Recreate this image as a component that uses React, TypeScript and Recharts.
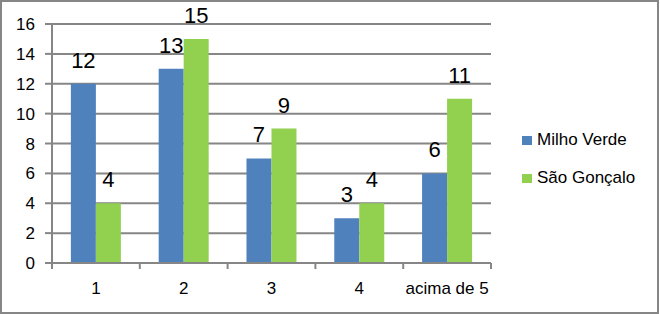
import React from 'react';
import { BarChart, Bar, XAxis, YAxis, CartesianGrid, Legend, LabelList } from 'recharts';

const categories = ['1', '2', '3', '4', 'acima de 5'];
const milhoVerde = [12, 13, 7, 3, 6];
const saoGoncalo = [4, 15, 9, 4, 11];
const yTicks = [0, 2, 4, 6, 8, 10, 12, 14, 16];

const data = categories.map((name, i) => ({
  name,
  milho: milhoVerde[i],
  sao: saoGoncalo[i],
}));

const W = 655;
const H = 310;
const margin = { top: 22, right: 166, bottom: 19, left: 0 };
const yAxisWidth = 50;
const plotWidth = W - margin.left - margin.right - yAxisWidth;
const halfBand = plotWidth / categories.length / 2;

const gray = '#868686';
const font = 'Arial, "Liberation Sans", sans-serif';

function CategoryTick(props: any) {
  const { x, y, payload, index } = props;
  const last = index === categories.length - 1;
  return (
    <g>
      <line x1={x - halfBand} y1={y} x2={x - halfBand} y2={y + 6} stroke={gray} strokeWidth={2} />
      {last && <line x1={x + halfBand} y1={y} x2={x + halfBand} y2={y + 6} stroke={gray} strokeWidth={2} />}
      <text x={x} y={y + 31} textAnchor="middle" fontSize={17} fill="#000" fontFamily={font}>
        {payload.value}
      </text>
    </g>
  );
}

function LegendContent(props: any) {
  const { payload } = props;
  return (
    <div style={{ fontFamily: font, fontSize: 17, color: '#000' }}>
      {payload.map((entry: any) => (
        <div key={entry.value} style={{ display: 'flex', alignItems: 'center', height: 38 }}>
          <span style={{ width: 10, height: 9, background: entry.color, marginRight: 5, display: 'inline-block' }} />
          <span>{entry.value}</span>
        </div>
      ))}
    </div>
  );
}

export default function App() {
  return (
    <div
      style={{
        position: 'fixed',
        left: 0,
        top: 0,
        width: 659,
        height: 314,
        boxSizing: 'border-box',
        border: `2px solid ${gray}`,
        background: '#fff',
      }}
    >
      <BarChart width={W} height={H} data={data} margin={margin} barCategoryGap="21.5%" barGap={0}>
        <CartesianGrid vertical={false} stroke={gray} strokeWidth={2} />
        <XAxis
          dataKey="name"
          axisLine={{ stroke: gray, strokeWidth: 2 }}
          tickLine={false}
          tickSize={0}
          tickMargin={0}
          height={30}
          interval={0}
          tick={<CategoryTick />}
        />
        <YAxis
          domain={[0, 16]}
          ticks={yTicks}
          width={yAxisWidth}
          axisLine={{ stroke: gray, strokeWidth: 2 }}
          tickLine={{ stroke: gray, strokeWidth: 2 }}
          tickSize={7}
          tickMargin={10}
          tick={{ fontSize: 17, fill: '#000', fontFamily: font }}
        />
        <Legend
          layout="vertical"
          align="center"
          verticalAlign="middle"
          content={<LegendContent />}
          wrapperStyle={{ left: 520, top: 119, width: 130 }}
        />
        <Bar dataKey="milho" name="Milho Verde" fill="#4F81BD" isAnimationActive={false}>
          <LabelList dataKey="milho" position="top" offset={16} fontSize={22} fill="#000" fontFamily={font} />
        </Bar>
        <Bar dataKey="sao" name="São Gonçalo" fill="#92D050" isAnimationActive={false}>
          <LabelList dataKey="sao" position="top" offset={16} fontSize={22} fill="#000" fontFamily={font} />
        </Bar>
      </BarChart>
    </div>
  );
}
